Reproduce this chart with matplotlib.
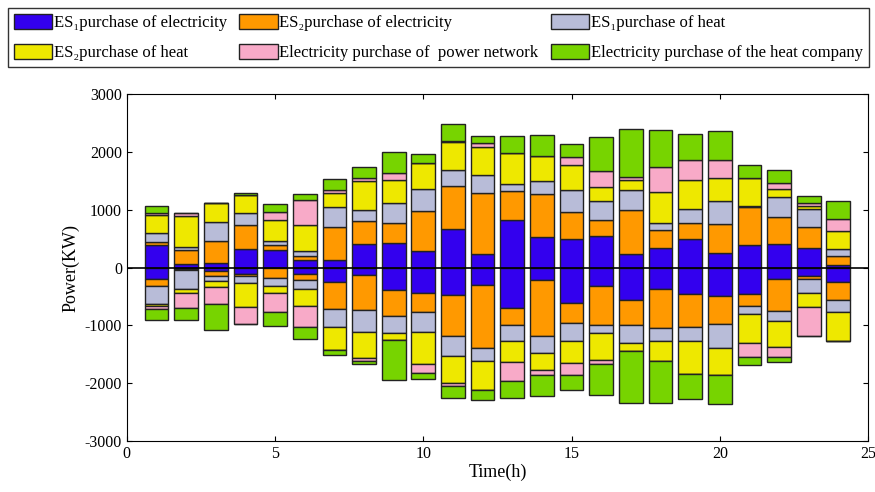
import matplotlib.pyplot as plt
import numpy as np

plt.rcParams['font.family'] = ['Liberation Serif', 'DejaVu Serif']
plt.rcParams['axes.unicode_minus'] = False

hours = list(range(1, 25))

# positive side (kW), stacked upward from 0
pos_es1_elec = [390, 58, 81, 329, 312, 127, 127, 415, 427, 283, 664, 242, 819, 531, 502, 542, 242, 340, 502, 254, 387, 415, 340, 40]
pos_es2_elec = [60, 254, 381, 404, 86, 81, 577, 387, 335, 698, 755, 1039, 508, 733, 462, 277, 750, 306, 260, 496, 652, 462, 364, 156]
pos_es1_heat = [145, 46, 328, 202, 64, 75, 335, 202, 346, 386, 266, 317, 115, 236, 386, 329, 347, 127, 259, 398, 34, 335, 317, 121]
pos_es2_heat = [320, 542, 318, 317, 357, 450, 259, 496, 415, 444, 490, 491, 531, 433, 416, 248, 173, 537, 502, 393, 468, 150, 46, 312]
pos_grid = [30, 40, 0, 0, 150, 444, 41, 52, 104, 0, 10, 57, 0, 0, 150, 277, 57, 433, 335, 317, 0, 104, 52, 219]
pos_heatco = [120, 0, 0, 30, 127, 92, 190, 179, 375, 150, 306, 127, 300, 358, 219, 577, 825, 634, 444, 502, 230, 230, 127, 300]

# negative side (kW, magnitudes), stacked downward from 0
neg_es1_elec = [190, 23, 63, 104, 10, 104, 248, 121, 381, 433, 467, 306, 704, 219, 612, 323, 554, 364, 450, 485, 450, 196, 138, 248]
neg_es2_elec = [133, 23, 81, 40, 163, 115, 462, 606, 461, 334, 722, 1079, 288, 958, 346, 664, 433, 680, 577, 496, 208, 554, 64, 317]
neg_es1_heat = [300, 323, 87, 121, 144, 145, 317, 387, 289, 347, 334, 236, 277, 300, 317, 138, 317, 231, 248, 404, 138, 179, 231, 202]
neg_es2_heat = [46, 69, 104, 416, 121, 300, 392, 444, 127, 548, 473, 502, 364, 289, 370, 468, 139, 341, 560, 473, 508, 444, 248, 502]
neg_grid = [46, 254, 288, 300, 329, 363, 0, 63, 0, 161, 47, 0, 329, 98, 207, 69, 0, 0, 0, 0, 242, 173, 508, 0]
neg_heatco = [197, 220, 450, 0, 248, 202, 99, 52, 681, 98, 207, 173, 288, 357, 271, 548, 900, 727, 433, 502, 145, 87, 0, 0]

labels = ['ES\u2081purchase of electricity', 'ES\u2082purchase of electricity',
          'ES\u2081purchase of heat', 'ES\u2082purchase of heat',
          'Electricity purchase of  power network', 'Electricity purchase of the heat company']
colors = ['#3300EE', '#FF9900', '#B8BCD8', '#EEE800', '#F8AAC8', '#77D400']

pos = [pos_es1_elec, pos_es2_elec, pos_es1_heat, pos_es2_heat, pos_grid, pos_heatco]
neg = [neg_es1_elec, neg_es2_elec, neg_es1_heat, neg_es2_heat, neg_grid, neg_heatco]

fig = plt.figure(figsize=(8.75, 4.92), dpi=100)
ax = fig.add_axes([0.145, 0.1037, 0.847, 0.705])

handles = []
bp = np.zeros(24)
bn = np.zeros(24)
for i in range(6):
    vp = np.array(pos[i], dtype=float)
    vn = np.array(neg[i], dtype=float)
    h = ax.bar(hours, vp, bottom=bp, width=0.8, color=colors[i], edgecolor='#222222', linewidth=1.0, label=labels[i])
    ax.bar(hours, -vn, bottom=-bn, width=0.8, color=colors[i], edgecolor='#222222', linewidth=1.0)
    bp += vp
    bn += vn
    handles.append(h)

ax.axhline(0, color='black', linewidth=1.2)
ax.set_xlim(0, 25)
ax.set_ylim(-3000, 3000)
ax.set_xticks([0, 5, 10, 15, 20, 25])
ax.set_yticks([-3000, -2000, -1000, 0, 1000, 2000, 3000])
ax.tick_params(direction='in', top=True, right=True, labelsize=11.5)
ax.set_xlabel('Time(h)', fontsize=13, labelpad=1)
ax.set_ylabel('Power(KW)', fontsize=13)

order = [0, 3, 1, 4, 2, 5]
leg = fig.legend([handles[k] for k in order], [labels[k] for k in order], ncol=3,
                 loc='upper left', bbox_to_anchor=(0.009, 0.984), fontsize=12,
                 frameon=True, fancybox=False, edgecolor='black', handlelength=2.3,
                 handleheight=1.05, handletextpad=0.1, columnspacing=0.75,
                 borderaxespad=0, borderpad=0.35, labelspacing=0.75)
leg.get_frame().set_linewidth(1.0)

fig.savefig('out.png', dpi=100)
